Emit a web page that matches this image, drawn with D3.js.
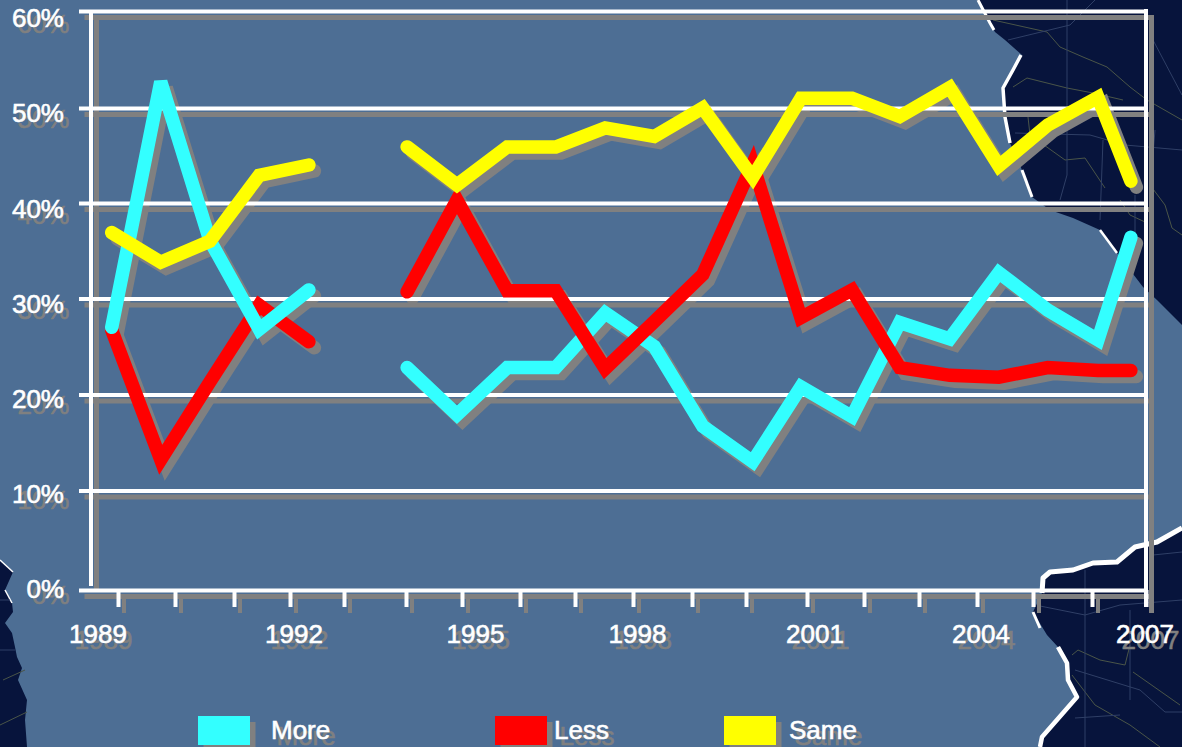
<!DOCTYPE html>
<html><head><meta charset="utf-8">
<script src="https://cdn.jsdelivr.net/npm/d3@7"></script>
<style>html,body{margin:0;padding:0;background:#4d6e94}svg{display:block}text{font-family:"Liberation Sans",Arial,sans-serif;font-size:26px;stroke-width:.6px;paint-order:stroke}</style>
</head><body><svg id="c" width="1182" height="747"></svg>
<script>
// ---- data
const tickYears=[1989,1990,1991,1992,1993,1994,1995,1996,1997,1998,1999,2000,2001,2002,2003,2004,2005,2006,2007];
const labelYears=[1989,1992,1995,1998,2001,2004,2007];
const pctTicks=[0,10,20,30,40,50,60];
const surveyYears=[1988.89,1989.75,1990.59,1991.45,1992.35,1993.2,1994.02,1994.91,1995.78,1996.65,1997.52,1998.36,1999.2,2000.11,2000.9,2001.79,2002.65,2003.53,2004.39,2005.25,2006.11,2006.72];
const more=[27,52.7,36.1,26.8,30.9,null,22.8,17.9,22.8,22.8,28.5,25,16.7,13,20.8,17.7,27.5,25.8,32.7,28.8,25.7,36.4];
const less=[26.7,13.2,21.3,29.3,25.5,null,30.7,40.3,30.8,30.8,22.7,27.6,32.5,44.1,28,30.9,22.8,22,21.8,22.8,22.5,22.5];
const same=[36.9,33.8,36,42.9,44,null,45.9,41.9,45.9,45.9,47.9,47,50,42.7,51,51,49.1,52.1,43.9,48.2,51.1,42.3];
const legendNames=["More","Less","Same"];

// ---- layout and style
const GREY="#808080",WHITE="#ffffff";
const colors={More:"#33ffff",Less:"#ff0000",Same:"#ffff00"};
const values={More:more,Less:less,Same:same};
const tickPx=[118,175,234,290,344,406,462,520,575,633,692,746,807,864,919,977,1033,1092,1146];
const gridPx=[590,490.5,394.5,298.5,203,108,11];
const labelNudge={1989:-20,1992:4,1995:13.5,1998:4.5,2001:8,2004:4,2007:-1};
const pctBase={0:598,10:502.7,20:408,30:312.7,40:217.5,50:122,60:27};
const legendPos={More:[198,271],Less:[495,554],Same:[724,789]};
const segments=[{from:0,to:5,order:["Less","More","Same"]},{from:6,to:22,order:["More","Less","Same"]}];

const x=d3.scaleLinear().domain(tickYears).range(tickPx);
const y=d3.scaleLinear().domain(pctTicks).range(gridPx);
const svg=d3.select("#c");
svg.append("rect").attr("width",1182).attr("height",747).attr("fill","#4d6e94");

// ---- decorative map backdrop
const NAVY="#07143c";
const mapG=svg.append("g");
const ne="M977,0 L990,23 L995,32 L1005,40 L1022,55 L1013,70 L1003,88 L1005,117 L1010,143 L1022,170 L1032,197 L1050,210 L1073,218 L1100,230 L1117,253 L1143,287 L1157,300 L1182,325 L1182,0 Z";
const se="M1182,528 L1157,542 L1135,547 L1117,562 L1093,563 L1073,570 L1050,572 L1043,578 L1042,593 L1033,612 L1047,635 L1058,647 L1067,663 L1068,680 L1077,697 L1063,713 L1042,737 L1040,747 L1182,747 Z";
const sw="M0,560 L13,572 L5,590 L12,603 L13,612 L5,623 L12,633 L15,647 L17,657 L22,668 L18,680 L27,700 L25,720 L27,747 L0,747 Z";
[ne,se,sw].forEach(d=>mapG.append("path").attr("d",d).attr("fill",NAVY));
const coast=[
 ["M978,0 L990,23 L994,30",3],["M1021,55 L1013,70 L1003,88 L1005,117 L1010,143",3.5],["M1022,170 L1032,197",3],["M1100,230 L1117,253",2.5],
 ["M1182,528 L1157,542 L1135,547 L1117,562 L1093,563 L1073,570 L1050,572 L1043,578 L1042,593",5],["M1033,612 L1040,628",3],["M1058,647 L1067,663 L1068,680 L1077,697 L1063,713 L1042,737 L1040,747",4.5],
 ["M0,560 L13,572",1.5],["M5,590 L12,603",1.5]];
coast.forEach(([d,w])=>mapG.append("path").attr("d",d).attr("fill","none").attr("stroke",WHITE).attr("stroke-width",w).attr("stroke-linejoin","round"));
const roadsOlive=["M993,20 L1047,32 L1060,47 L1083,57 L1107,67 L1130,87 L1147,100 L1182,120","M1013,87 L1027,78 L1067,88 L1093,93 L1123,100","M1028,117 L1030,135 L1065,160 L1085,158 L1105,188","M1120,200 L1130,215 L1145,222","M1150,185 L1165,205 L1172,228 L1182,235",
 "M1072,655 L1078,650 L1100,660 L1125,665 L1130,645","M1072,675 L1095,705 L1130,725 L1160,747","M1133,672 L1180,705","M3,680 L25,670","M0,725 L27,712"];
const roadsBlue=["M1067,0 L1067,175 L1060,200","M1008,40 L1070,25 L1095,0","M1015,133 L1090,135 L1125,145 L1182,150","M1103,140 L1100,220 M1155,130 L1150,190","M1135,195 L1135,235","M1153,40 L1182,95",
 "M1085,570 L1085,747","M1040,606 L1085,615 L1120,605 L1182,600","M1075,670 L1140,690 L1165,712 L1182,712","M1130,610 L1130,700","M1120,715 L1075,718","M1153,555 L1182,552","M0,600 L10,600 M0,650 L15,650"];
roadsOlive.forEach(d=>mapG.append("path").attr("d",d).attr("fill","none").attr("stroke","#4a5548").attr("stroke-width",1));
roadsBlue.forEach(d=>mapG.append("path").attr("d",d).attr("fill","none").attr("stroke","#2f3f66").attr("stroke-width",1));

// ---- frame, drawn once in grey (offset) and once in white
function frame(g,color,w){
  const left=g.append("g").attr("transform","translate(79,0)").call(d3.axisLeft(y).tickValues(pctTicks).tickSize(-(tickPx[18]-79)).tickFormat(""));
  left.select(".domain").remove();
  left.selectAll("line").attr("stroke",color).attr("stroke-width",w);
  const bottom=g.append("g").attr("transform",`translate(0,${y(0)})`).call(d3.axisBottom(x).tickValues(tickYears).tickSize(17).tickFormat(""));
  bottom.select(".domain").remove();
  bottom.selectAll("line").attr("stroke",color).attr("stroke-width",4);
  g.append("line").attr("x1",91).attr("x2",91).attr("y1",y(60)).attr("y2",y(0)-4).attr("stroke",color).attr("stroke-width",w);
  g.append("line").attr("x1",x(2007)).attr("x2",x(2007)).attr("y1",y(60)-2).attr("y2",y(0)+17).attr("stroke",color).attr("stroke-width",w);
}
function labels(g,color){
  g.selectAll(".p").data(pctTicks).join("text").attr("class","p").attr("x",64).attr("y",d=>pctBase[d]).attr("text-anchor","end").attr("fill",color).attr("stroke",color).text(d=>d+"%");
  g.selectAll(".yr").data(labelYears).join("text").attr("class","yr").attr("x",d=>x(d)+labelNudge[d]).attr("y",643).attr("text-anchor","middle").attr("fill",color).attr("stroke",color).text(d=>d);
  g.selectAll(".lg").data(legendNames).join("text").attr("class","lg").attr("x",d=>legendPos[d][1]).attr("y",739).attr("fill",color).attr("stroke",color).text(d=>d);
}
const line=d3.line().x(d=>x(d[0])).y(d=>y(d[1]));
function seriesPath(g,name,seg,color){
  const pts=surveyYears.map((t,i)=>[t,values[name][i]]).slice(seg.from,seg.to);
  g.append("path").attr("d",line(pts)).attr("fill","none").attr("stroke",color).attr("stroke-width",13.5).attr("stroke-linecap","round").attr("stroke-linejoin","miter");
}
function swatches(g,fill){
  g.selectAll("rect").data(legendNames).join("rect").attr("x",d=>legendPos[d][0]).attr("y",716).attr("width",52).attr("height",29).attr("fill",d=>fill||colors[d]);
}

const shadow=svg.append("g").attr("transform","translate(5.5,6)");
frame(shadow,GREY,5);
segments.forEach(s=>s.order.forEach(n=>seriesPath(shadow,n,s,GREY)));
swatches(shadow.append("g"),GREY);
labels(shadow.append("g"),GREY);

const front=svg.append("g");
frame(front,WHITE,4);
segments.forEach(s=>s.order.forEach(n=>seriesPath(front,n,s,colors[n])));
swatches(front.append("g"));
labels(front.append("g"),WHITE);
</script></body></html>
